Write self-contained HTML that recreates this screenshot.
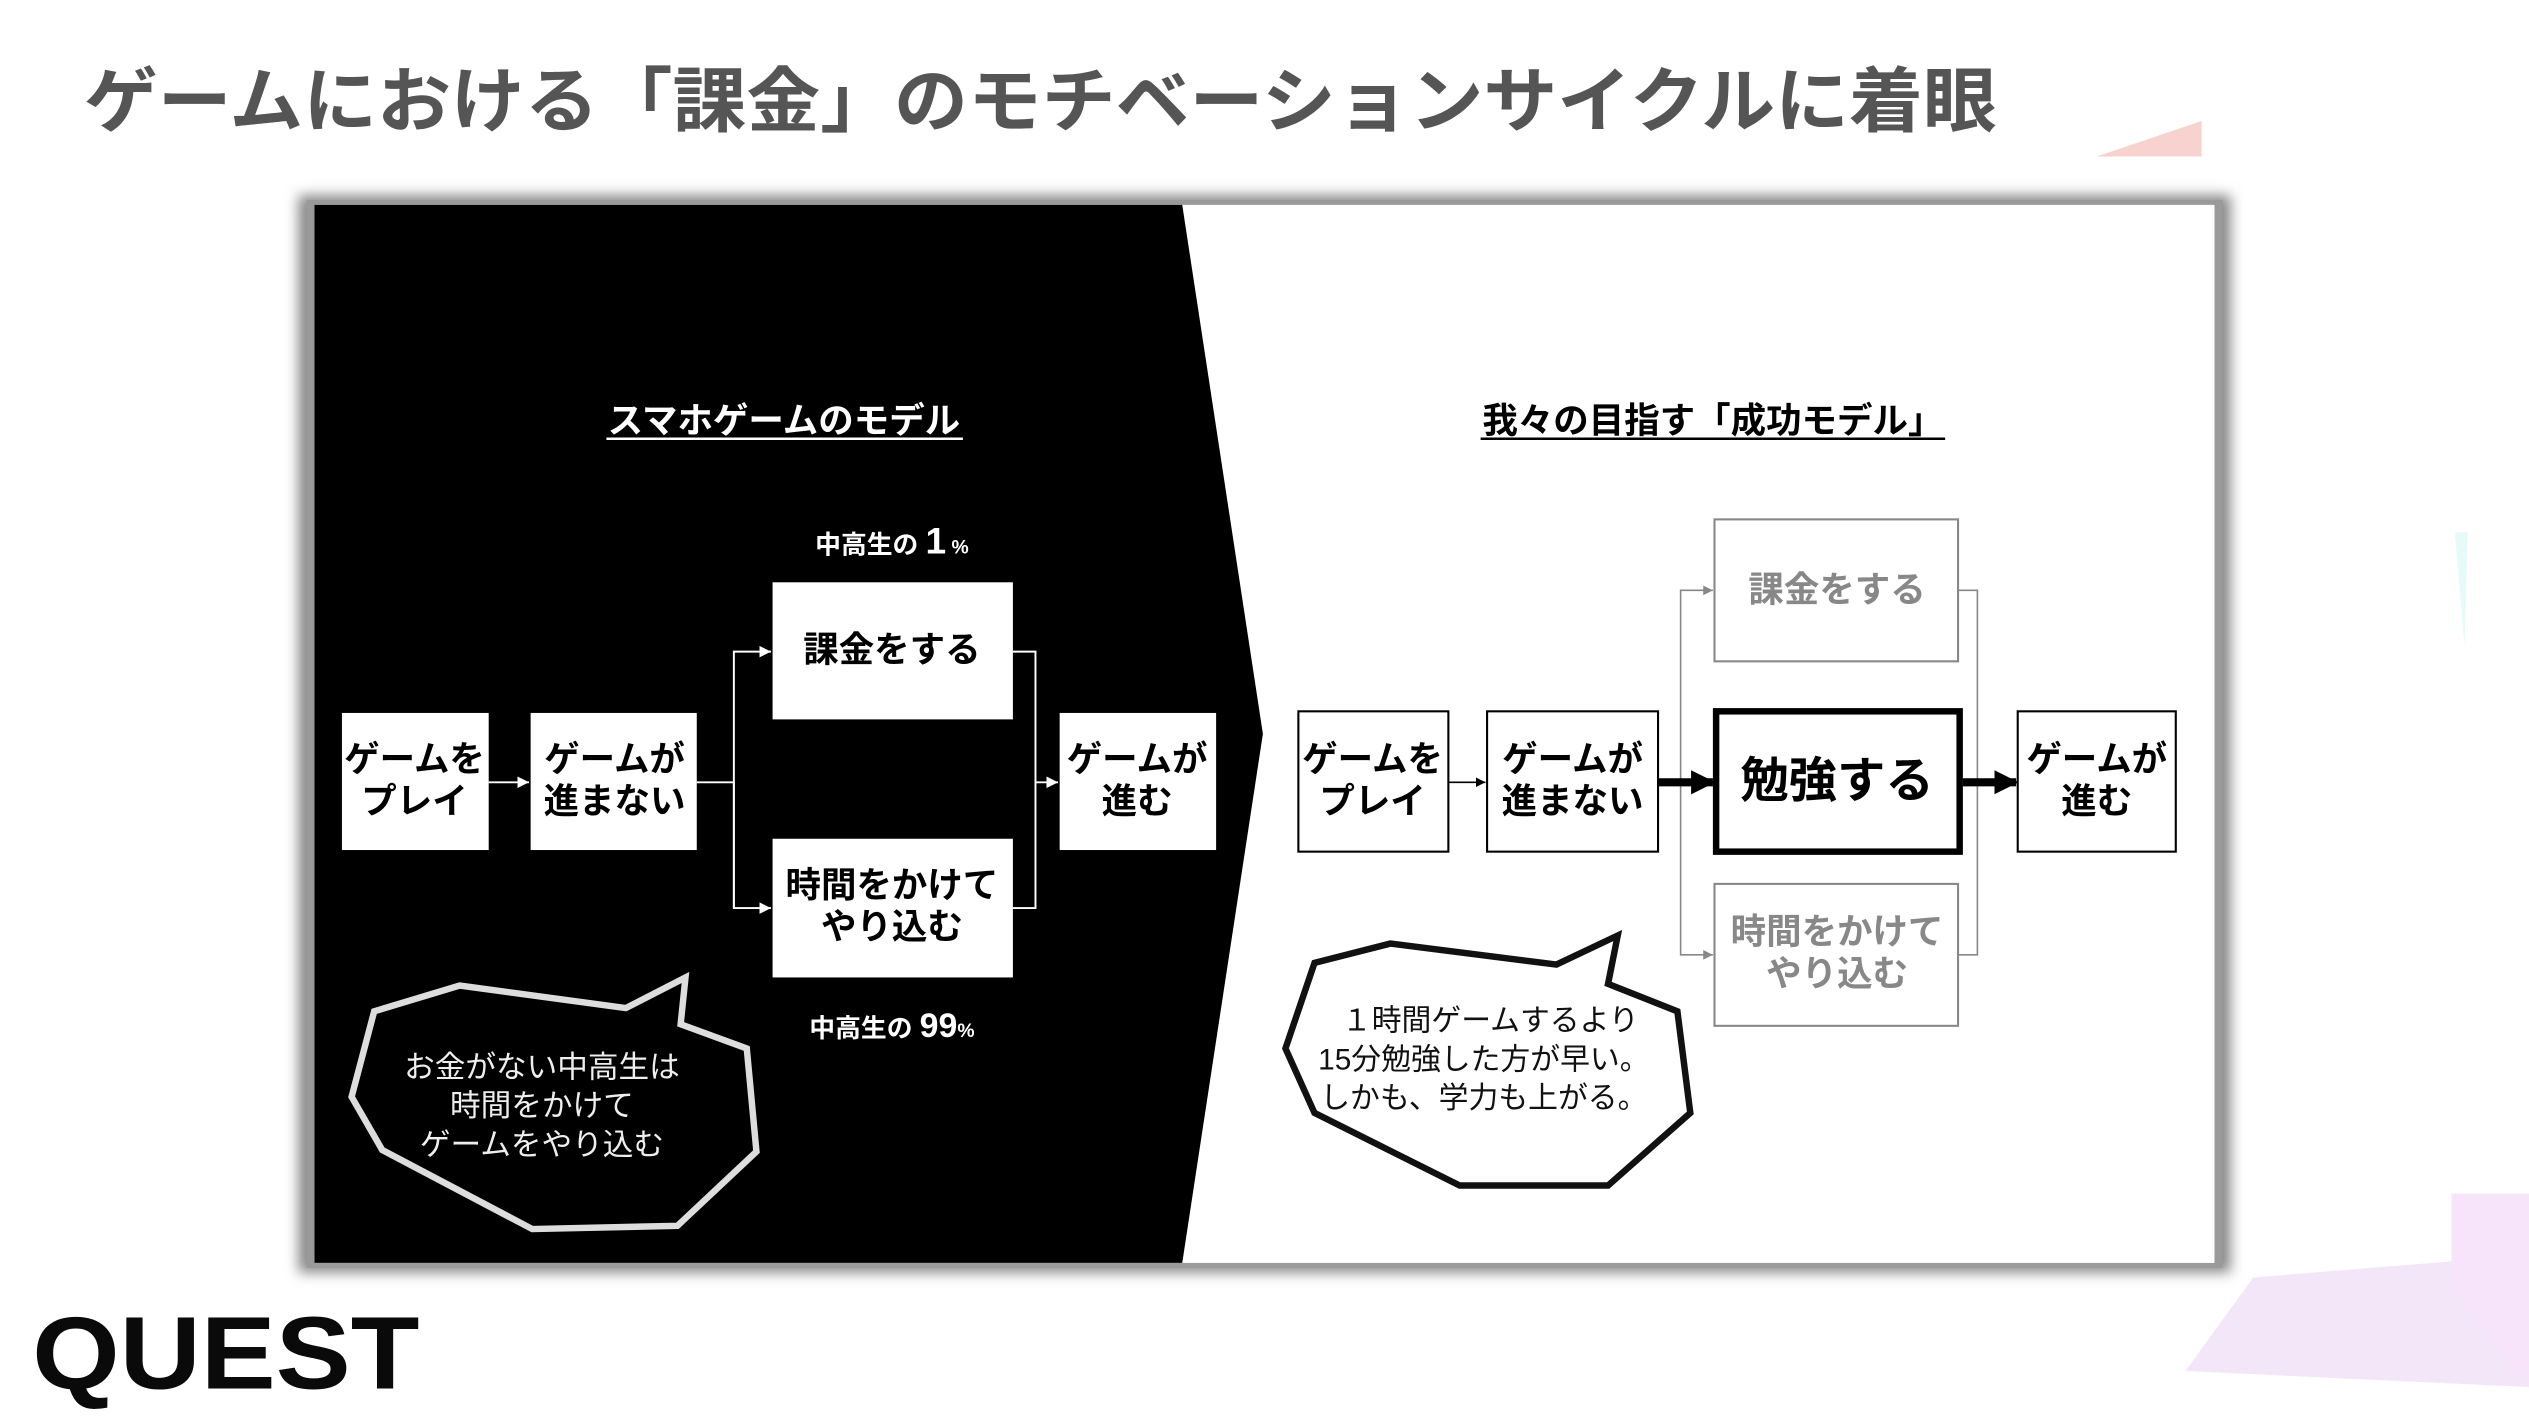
<!DOCTYPE html>
<html><head><meta charset="utf-8"><style>
html,body{margin:0;padding:0;background:#fff;}
svg{display:block;}
text{font-family:"Liberation Sans","Noto Sans CJK JP",sans-serif;}
</style></head><body>
<svg width="2529" height="1422" viewBox="0 0 1568 881.6" xmlns="http://www.w3.org/2000/svg">
<defs>
<marker id="aw" viewBox="0 0 10 10" refX="10" refY="5" markerWidth="6" markerHeight="6" orient="auto"><path d="M0,0L10,5L0,10z" fill="#fff"/></marker>
<marker id="ab" viewBox="0 0 10 10" refX="10" refY="5" markerWidth="6" markerHeight="6" orient="auto"><path d="M0,0L10,5L0,10z" fill="#000"/></marker>
<marker id="ag" viewBox="0 0 10 10" refX="10" refY="5" markerWidth="6" markerHeight="6" orient="auto"><path d="M0,0L10,5L0,10z" fill="#888"/></marker>
<marker id="ak" viewBox="0 0 10 10" refX="9" refY="5" markerWidth="3" markerHeight="3" orient="auto"><path d="M0,0L10,5L0,10z" fill="#000"/></marker>
<filter id="sh" x="-5%" y="-5%" width="110%" height="110%"><feGaussianBlur stdDeviation="4"/></filter>
</defs>
<!-- decorations -->
<polygon points="1300,97 1365,75 1365,97" fill="#f6c7c2" opacity="0.8"/>
<polygon points="1355,850 1397,792 1520,782 1568,800 1568,860" fill="#f3e3f8" opacity="0.9"/>
<polygon points="1520,740 1568,740 1568,860 1520,800" fill="#f7e4fa"/>
<polygon points="1522,330 1530,330 1528,400" fill="#e6fafa"/>
<!-- title -->
<text x="52" y="78" font-size="44" font-weight="bold" fill="#555" textLength="1186" lengthAdjust="spacingAndGlyphs">ゲームにおける「課金」のモチベーションサイクルに着眼</text>
<!-- frame -->
<rect x="185" y="121" width="1198" height="668" fill="#888" filter="url(#sh)"/>
<rect x="190" y="124" width="1188" height="662" fill="#9a9a9a"/>
<rect x="195" y="127" width="1178" height="656" fill="#fff"/>
<polygon points="195,127 733,127 783,455 733,783 195,783" fill="#000"/>
<!-- left -->
<g fill="#fff" font-weight="bold" text-anchor="middle">
<text x="486" y="268" font-size="22">スマホゲームのモデル</text>
<text x="553" y="343" font-size="16">中高生の <tspan font-size="23">1</tspan><tspan font-size="12"> %</tspan></text>
<text x="553" y="643" font-size="16">中高生の <tspan font-size="21">99</tspan><tspan font-size="12">%</tspan></text>
</g>
<line x1="376" y1="272" x2="597" y2="272" stroke="#fff" stroke-width="1.5"/>
<g fill="#fff">
<rect x="212" y="442" width="91" height="85"/>
<rect x="329" y="442" width="103" height="85"/>
<rect x="479" y="361" width="149" height="85"/>
<rect x="479" y="520" width="149" height="86"/>
<rect x="657" y="442" width="97" height="85"/>
</g>
<g stroke="#fff" stroke-width="1.2" fill="none">
<line x1="303" y1="485" x2="328" y2="485" marker-end="url(#aw)"/>
<polyline points="432,485 455,485"/>
<polyline points="455,563 455,404 478,404" marker-end="url(#aw)"/>
<polyline points="455,485 455,563 478,563" marker-end="url(#aw)"/>
<polyline points="628,404 642,404 642,563 628,563"/>
<line x1="642" y1="485" x2="656" y2="485" marker-end="url(#aw)"/>
</g>
<g fill="#000" font-weight="bold" font-size="22" text-anchor="middle">
<text x="257" y="478">ゲームを</text><text x="257" y="504">プレイ</text>
<text x="381" y="478">ゲームが</text><text x="381" y="504">進まない</text>
<text x="553" y="410">課金をする</text>
<text x="553" y="556">時間をかけて</text><text x="553" y="582">やり込む</text>
<text x="705" y="478">ゲームが</text><text x="705" y="504">進む</text>
</g>
<polygon points="232,627 285,611 388,625 425,606 422,635 463,650 469,714 420,760 330,762 237,713 218,680" fill="#000" stroke="#ddd" stroke-width="4"/>
<g fill="#eee" font-size="19" text-anchor="middle">
<text x="336" y="668">お金がない中高生は</text>
<text x="336" y="692">時間をかけて</text>
<text x="336" y="716">ゲームをやり込む</text>
</g>
<!-- right -->
<g fill="#000" font-weight="bold" text-anchor="middle">
<text x="1062" y="268" font-size="22">我々の目指す「成功モデル」</text>
</g>
<line x1="918" y1="272" x2="1206" y2="272" stroke="#000" stroke-width="1.5"/>
<g fill="#fff" stroke="#000" stroke-width="1.3">
<rect x="805" y="441" width="93" height="87"/>
<rect x="922" y="441" width="106" height="87"/>
<rect x="1251" y="441" width="98" height="87"/>
</g>
<g fill="#fff" stroke="#888" stroke-width="1.3">
<rect x="1063" y="322" width="151" height="88"/>
<rect x="1063" y="548" width="151" height="88"/>
</g>
<rect x="1064" y="441" width="151" height="87" fill="#fff" stroke="#000" stroke-width="4"/>
<g stroke="#888" stroke-width="1" fill="none">
<polyline points="1042,485 1042,366 1062,366" marker-end="url(#ag)"/>
<polyline points="1042,485 1042,592 1062,592" marker-end="url(#ag)"/>
<polyline points="1214,366 1226,366 1226,592 1214,592"/>
</g>
<line x1="898" y1="485" x2="921" y2="485" stroke="#000" stroke-width="1" marker-end="url(#ab)"/>
<line x1="1028" y1="485" x2="1062" y2="485" stroke="#000" stroke-width="5" marker-end="url(#ak)"/>
<line x1="1217" y1="485" x2="1250" y2="485" stroke="#000" stroke-width="5" marker-end="url(#ak)"/>
<g fill="#000" font-weight="bold" font-size="22" text-anchor="middle">
<text x="851" y="478">ゲームを</text><text x="851" y="504">プレイ</text>
<text x="975" y="478">ゲームが</text><text x="975" y="504">進まない</text>
<text x="1300" y="478">ゲームが</text><text x="1300" y="504">進む</text>
<text x="1139" y="494" font-size="30">勉強する</text>
</g>
<g fill="#888" font-weight="bold" font-size="22" text-anchor="middle">
<text x="1139" y="373">課金をする</text>
<text x="1139" y="585">時間をかけて</text><text x="1139" y="611">やり込む</text>
</g>
<polygon points="815,597 862,585 965,598 1003,580 997,610 1040,627 1048,690 997,735 905,735 815,690 797,650" fill="#fff" stroke="#111" stroke-width="4"/>
<g fill="#111" font-size="18.5" text-anchor="middle">
<text x="924" y="639">１時間ゲームするより</text>
<text x="920" y="663">15分勉強した方が早い。</text>
<text x="920" y="687">しかも、学力も上がる。</text>
</g>
<!-- logo -->
<text x="20" y="861" font-size="64" font-weight="bold" fill="#0a0a0a" textLength="240" lengthAdjust="spacingAndGlyphs">QUEST</text>
</svg>
</body></html>
